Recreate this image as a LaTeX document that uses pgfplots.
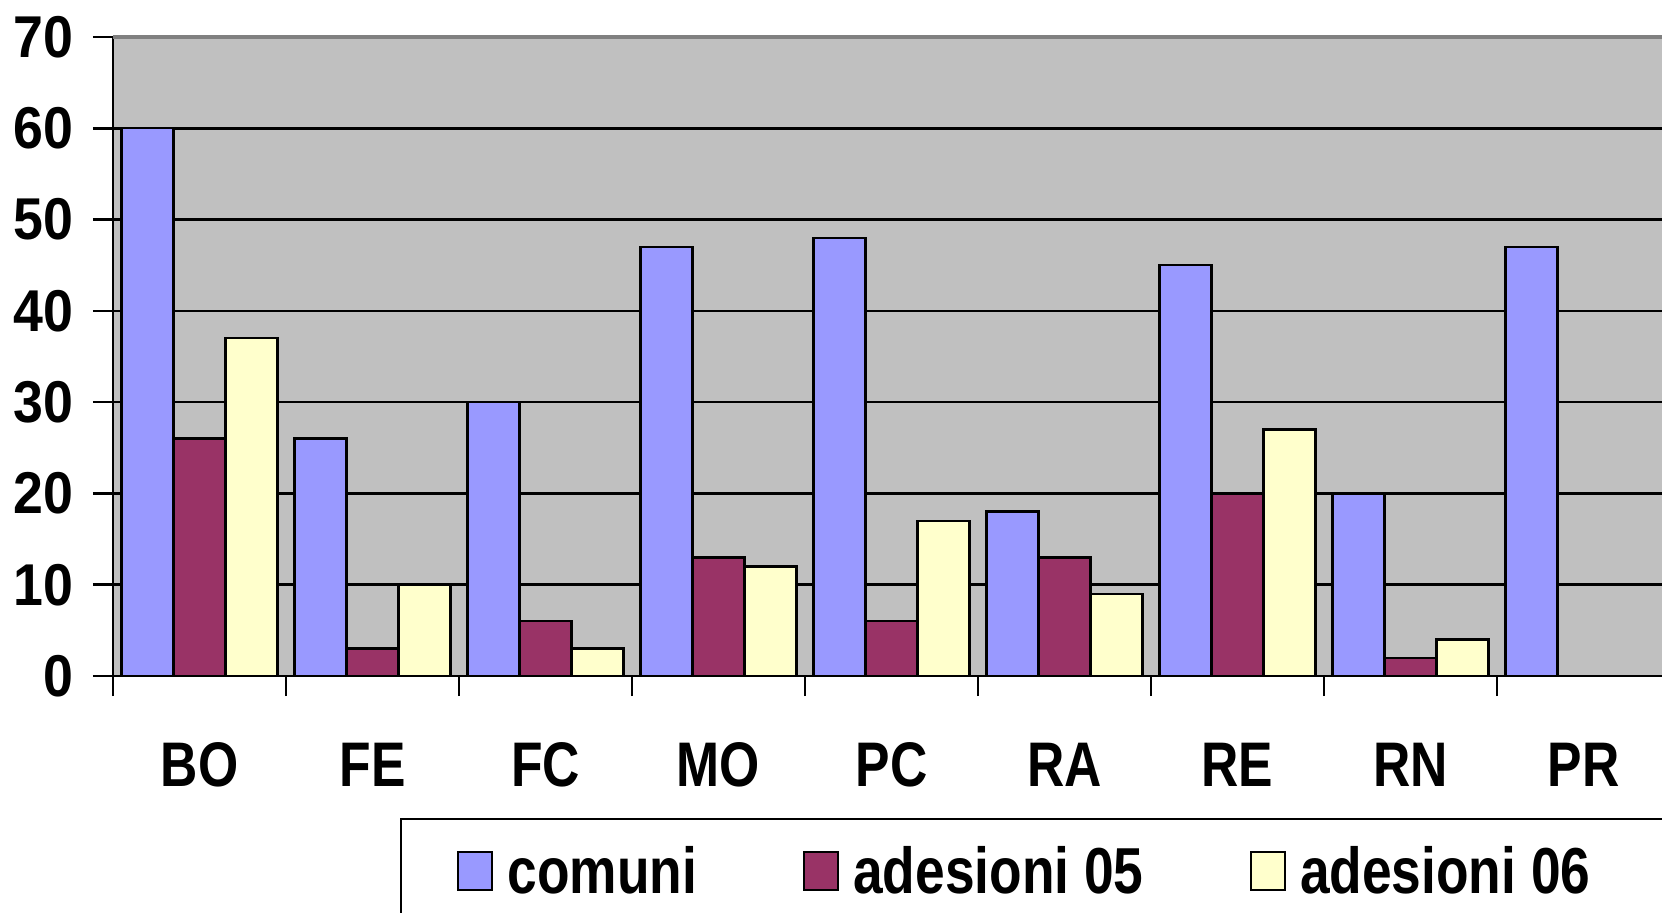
\documentclass[border=0pt]{standalone}
\usepackage{fontspec}
\setmainfont{Liberation Sans}[FakeStretch=0.82]
\newfontfamily\yfam{Liberation Sans}[FakeStretch=0.91]
\usepackage{pgfplots}
\pgfplotsset{compat=1.18}
\definecolor{cgray}{HTML}{C0C0C0}
\definecolor{ccom}{HTML}{9999FF}
\definecolor{cfive}{HTML}{993366}
\definecolor{csix}{HTML}{FFFFCC}
\newcommand{\yf}{\yfam\fontsize{29.5}{34}\selectfont\bfseries}
\newcommand{\xf}{\fontsize{31.5}{36}\selectfont\bfseries}
\newcommand{\lf}{\fontsize{32.5}{37}\selectfont\bfseries}
\pgfplotsset{mylegend/.style={legend image code/.code={\draw[##1,line width=1.2pt] (0pt,-9.5pt) rectangle (17pt,9.5pt);}}}
\begin{document}
\begin{tikzpicture}
\begin{axis}[
  at={(56.5pt,118pt)}, anchor=south west,
  scale only axis, width=778.5pt, height=319.5pt,
  xmin=-0.5, xmax=8.5, ymin=0, ymax=70,
  axis x line*=bottom, axis y line*=left,
  axis line style={line width=1.3pt, black},
  xtick={-0.5,0.5,...,8.5}, x tick label as interval,
  xticklabels={BO,FE,FC,MO,PC,RA,RE,RN,PR},
  ytick={0,10,...,60},
  extra y ticks={70},
  extra y tick style={grid style={line width=1.6pt, color=gray}},
  ymajorgrids, grid style={line width=1.3pt, black},
  tick align=outside,
  major tick length=10pt,
  tick style={line width=1.3pt, black},
  yticklabel style={font=\yf, anchor=east, xshift=-6.5pt},
  xticklabel style={font=\xf, anchor=base, yshift=-45pt},
  /pgf/number format/assume math mode=true,
  axis background/.style={fill=cgray},
  legend columns=3,
  legend style={draw=none, fill=none, inner sep=0pt, anchor=west,
    at={(axis description cs:0.2207,-0.3052)}, font=\lf,
    /tikz/every odd column/.append style={column sep=5pt},
    /tikz/every even column/.append style={column sep=51pt}},
]
\addplot[ybar, bar width=0.3, bar shift=-0.3, fill=ccom, draw=black, line width=1.2pt, mylegend]
  coordinates {(0,60)(1,26)(2,30)(3,47)(4,48)(5,18)(6,45)(7,20)(8,47)};
\addlegendentry{comuni}
\addplot[ybar, bar width=0.3, bar shift=0, fill=cfive, draw=black, line width=1.2pt, mylegend]
  coordinates {(0,26)(1,3)(2,6)(3,13)(4,6)(5,13)(6,20)(7,2)};
\addlegendentry{adesioni 05}
\addplot[ybar, bar width=0.3, bar shift=0.3, fill=csix, draw=black, line width=1.2pt, mylegend]
  coordinates {(0,37)(1,10)(2,3)(3,12)(4,17)(5,9)(6,27)(7,4)};
\addlegendentry{adesioni 06}
\end{axis}
\draw[line width=1pt] (200.5pt,-20pt) rectangle (900pt,46.5pt);
\pgfresetboundingbox
\path[use as bounding box] (0pt,0pt) rectangle (831pt,456pt);
\end{tikzpicture}
\end{document}
